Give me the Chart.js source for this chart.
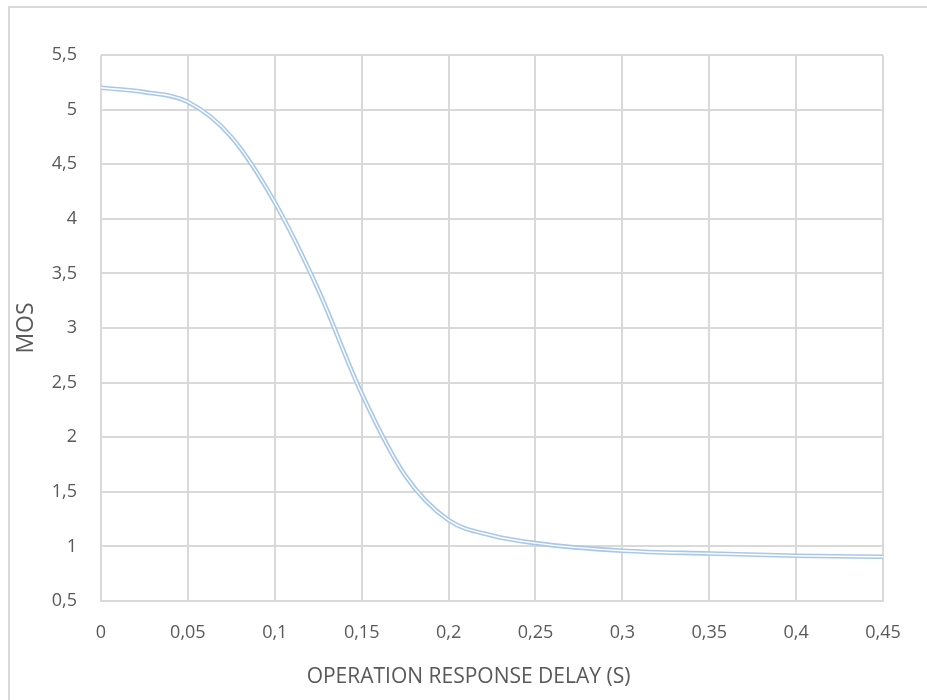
<!DOCTYPE html>
<html>
<head>
<meta charset="utf-8">
<script src="https://cdn.jsdelivr.net/npm/chart.js@4/dist/chart.umd.min.js"></script>
<style>
  html, body { margin: 0; padding: 0; background: #ffffff; }
  #wrap { position: relative; width: 927px; height: 700px; overflow: hidden; }
  #frame { position: absolute; left: 8px; top: 6px; width: 1000px; height: 800px;
           border-top: 2px solid #d9d9d9; border-left: 2px solid #d9d9d9; box-sizing: border-box; }
  canvas { position: absolute; left: 0; top: 0; }
</style>
</head>
<body>
<div id="wrap">
  <div id="frame"></div>
  <canvas id="chart" width="927" height="700"></canvas>
</div>
<script>
// Operation response delay (s) and the corresponding mean opinion score
const delays = [0, 0.025, 0.05, 0.075, 0.1, 0.125, 0.15, 0.175, 0.2, 0.225, 0.25, 0.3, 0.35, 0.4, 0.45];
const mosValues = [5.20, 5.16, 5.07, 4.75, 4.15, 3.35, 2.40, 1.65, 1.24, 1.10, 1.03, 0.96, 0.935, 0.915, 0.905];
const xTicks = [0, 0.05, 0.1, 0.15, 0.2, 0.25, 0.3, 0.35, 0.4, 0.45];
const yTicks = [0.5, 1, 1.5, 2, 2.5, 3, 3.5, 4, 4.5, 5, 5.5];
const xTitle = 'OPERATION RESPONSE DELAY (S)';

const points = delays.map((d, i) => ({ x: d, y: mosValues[i] }));
const fmt = v => String(Math.round(v * 100) / 100).replace('.', ',');
const textColor = '#595959';
const gridColor = '#d9d9d9';
const fontFamily = '"Open Sans", sans-serif';

// x-axis title, centred on the whole chart box rather than on the plot area
const xTitlePlugin = {
  id: 'xTitle',
  afterDraw(chart) {
    const ctx = chart.ctx;
    ctx.save();
    ctx.font = '21px ' + fontFamily;
    ctx.fillStyle = textColor;
    ctx.textAlign = 'center';
    ctx.textBaseline = 'middle';
    ctx.fillText(xTitle, (chart.width + 10) / 2, chart.height - 23);
    ctx.restore();
  }
};

new Chart(document.getElementById('chart'), {
  type: 'line',
  data: {
    datasets: [
      { // white core drawn on top of the blue stroke gives the double-line look
        data: points, borderColor: '#ffffff', borderWidth: 1.4,
        pointRadius: 0, cubicInterpolationMode: 'monotone', order: 0
      },
      {
        data: points, borderColor: '#a9c8e8', borderWidth: 4.6,
        pointRadius: 0, cubicInterpolationMode: 'monotone', order: 1
      }
    ]
  },
  plugins: [xTitlePlugin],
  options: {
    responsive: false,
    animation: false,
    layout: { padding: { top: 55, right: 44, left: 0, bottom: 0 } },
    plugins: { legend: { display: false }, tooltip: { enabled: false } },
    scales: {
      x: {
        type: 'linear', min: 0, max: 0.45,
        afterBuildTicks: s => { s.ticks = xTicks.map(v => ({ value: v })); },
        afterFit: s => { s.height = 99; },
        grid: { color: gridColor, lineWidth: 2, drawTicks: false },
        border: { display: true, color: gridColor, width: 2 },
        ticks: { color: textColor, padding: 21, maxRotation: 0, font: { family: fontFamily, size: 18 },
                 callback: v => fmt(v) }
      },
      y: {
        type: 'linear', min: 0.5, max: 5.5,
        afterBuildTicks: s => { s.ticks = yTicks.map(v => ({ value: v })); },
        afterFit: s => { s.width = 101; },
        grid: { color: gridColor, lineWidth: 2, drawTicks: false },
        border: { display: false },
        ticks: { color: textColor, padding: 24, font: { family: fontFamily, size: 18 },
                 callback: v => fmt(v) },
        title: { display: true, text: 'MOS', color: textColor,
                 font: { family: fontFamily, size: 23 }, padding: { top: 13, bottom: 0 } }
      }
    }
  }
});
</script>
</body>
</html>
